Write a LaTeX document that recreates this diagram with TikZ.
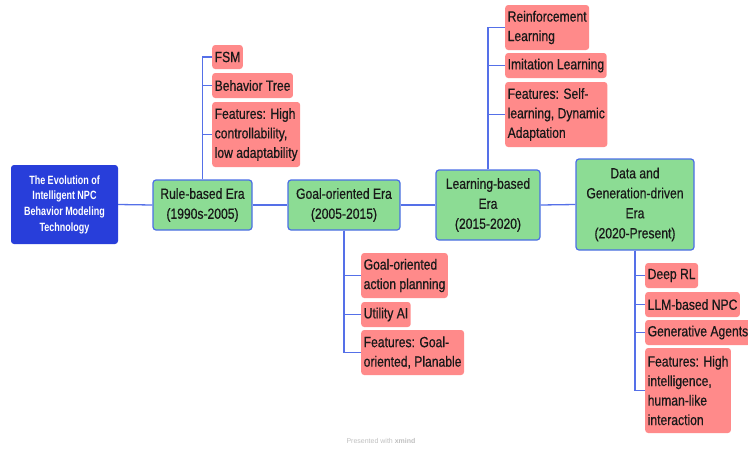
\documentclass[tikz,border=0pt]{standalone}
\usepackage{fontspec}
\setmainfont{Liberation Sans}[FakeStretch=0.82, FakeBold=0.6]
\newfontfamily\rootfont{Liberation Sans}[FakeStretch=0.75]
\newfontfamily\markfont{Liberation Sans}
\definecolor{rootblue}{RGB}{40,62,218}
\definecolor{eragreen}{RGB}{140,220,148}
\definecolor{eraborder}{RGB}{75,110,230}
\definecolor{leafpink}{RGB}{255,138,138}
\definecolor{linkblue}{RGB}{85,112,232}
\definecolor{leaftext}{RGB}{25,25,25}
\tikzset{
  rootbox/.style={fill=rootblue, rounded corners=3pt, text=white, align=center,
    font=\rootfont\bfseries\fontsize{12}{15.7}\selectfont, inner sep=0pt},
  erabox/.style={fill=eragreen, draw=eraborder, line width=1.2pt, rounded corners=3pt,
    text=leaftext, align=center, font=\fontsize{14.8}{20}\selectfont, inner sep=0pt},
  leafbox/.style={fill=leafpink, rounded corners=3pt, text=leaftext, align=left,
    font=\fontsize{14.8}{19.5}\selectfont, inner xsep=2.5pt, inner ysep=0pt, anchor=west},
  link/.style={draw=linkblue, line width=1.3pt},
}
\begin{document}
\begin{tikzpicture}[x=1pt,y=-1pt]
\useasboundingbox (0,0) rectangle (748,448);
% root and eras
\node[rootbox, minimum width=107pt, minimum height=79pt] (root) at (64.5,204.5)
  {The Evolution of\\Intelligent NPC\\Behavior Modeling\\Technology};
\node[erabox, minimum width=99pt, minimum height=50pt] (rule) at (202.5,205)
  {Rule-based Era\\(1990s-2005)};
\node[erabox, minimum width=112pt, minimum height=50pt] (goal) at (344,205)
  {Goal-oriented Era\\(2005-2015)};
\node[erabox, minimum width=104pt, minimum height=70pt] (learn) at (488,205)
  {Learning-based\\Era\\(2015-2020)};
\node[erabox, minimum width=118pt, minimum height=91pt] (data) at (635,204.5)
  {Data and\\Generation-driven\\Era\\ (2020-Present)};
% leaves of rule-based
\node[leafbox, minimum height=24pt] (fsm) at (212,57) {FSM};
\node[leafbox, minimum height=25pt] (bt) at (212,85.5) {Behavior Tree};
\node[leafbox, minimum height=65pt] (f1) at (212,134.5) {Features: High\\controllability,\\low adaptability};
% leaves of goal-oriented
\node[leafbox, minimum height=45pt] (goap) at (361,275.5) {Goal-oriented\\action planning};
\node[leafbox, minimum height=25pt] (uai) at (361,314.5) {Utility AI};
\node[leafbox, minimum height=45pt] (f2) at (361,352.5) {Features: Goal-\\oriented, Planable};
% leaves of learning-based
\node[leafbox, minimum height=45pt] (rl) at (505,27.5) {Reinforcement\\Learning};
\node[leafbox, minimum height=25pt] (il) at (505,65.5) {Imitation Learning};
\node[leafbox, minimum height=65pt] (f3) at (505,114.5) {Features: Self-\\learning, Dynamic\\Adaptation};
% leaves of data-driven
\node[leafbox, minimum height=25pt] (drl) at (645,275.5) {Deep RL};
\node[leafbox, minimum height=25pt] (llm) at (645,304.5) {LLM-based NPC};
\node[leafbox, minimum height=25pt] (ga) at (645,332.5) {Generative Agents};
\node[leafbox, minimum height=85pt] (f4) at (645,390.5) {Features: High\\intelligence,\\human-like\\interaction};
% main connectors
\draw[link] (root.east) -- (rule.west);
\draw[link] (rule.east) -- (goal.west);
\draw[link] (goal.east) -- (learn.west);
\draw[link] (learn.east) -- (data.west);
% branch connectors
\foreach \c in {fsm,bt,f1} \draw[link] (rule.north) |- (\c.west);
\foreach \c in {goap,uai,f2} \draw[link] (goal.south) |- (\c.west);
\foreach \c in {rl,il,f3} \draw[link] (learn.north) |- (\c.west);
\foreach \c in {drl,llm,ga,f4} \draw[link] (data.south) |- (\c.west);
% watermark
\node[text=black!25, font=\markfont\fontsize{7}{8}\selectfont, inner sep=0pt] (wm) at (381,441)
  {Presented with \textbf{xmind}};
\end{tikzpicture}
\end{document}
